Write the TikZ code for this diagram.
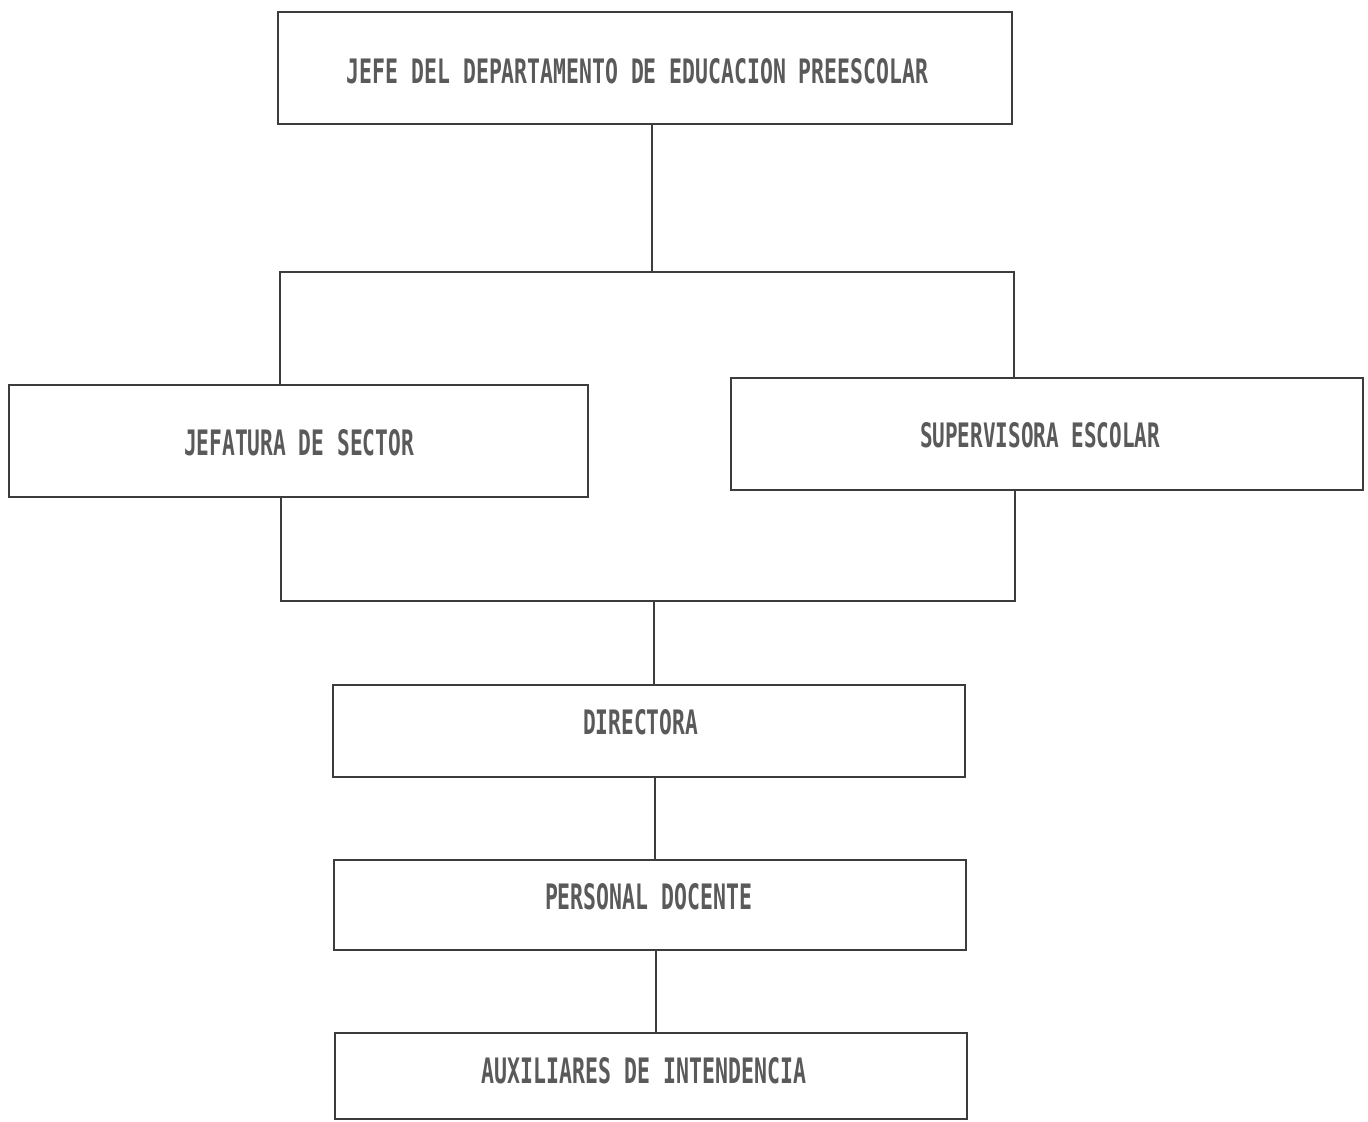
\documentclass[tikz,border=0pt]{standalone}
\usepackage{fontspec}
\setmainfont{Liberation Sans}
\newfontfamily\plotfont{DejaVu Sans Mono}
\usepackage{graphicx}
\definecolor{linec}{HTML}{3C3C3C}
\definecolor{textc}{HTML}{5A5A5A}
\newcommand{\capslbl}[3]{\resizebox{#1}{#2}{\plotfont\bfseries #3}}
\tikzset{
  box/.style={draw=linec, line width=1.1pt, rectangle, inner sep=0pt},
  lbl/.style={inner sep=0pt, text=textc},
  conn/.style={draw=linec, line width=0.9pt}
}
\begin{document}
\begin{tikzpicture}[x=0.5pt,y=-0.5pt]
\useasboundingbox (0,0) rectangle (1368,1122);
% boxes
\node[box, minimum width=367pt, minimum height=56pt] (top) at (645,68) {};
\node[box, minimum width=289.5pt, minimum height=56pt] (jef) at (298.5,441) {};
\node[box, minimum width=316pt, minimum height=56pt] (sup) at (1047,434) {};
\node[box, minimum width=316pt, minimum height=46pt] (dir) at (649,731) {};
\node[box, minimum width=316pt, minimum height=45pt] (per) at (650,905) {};
\node[box, minimum width=316pt, minimum height=43pt] (aux) at (651,1076) {};
% labels
\node[lbl] (topT) at (637.5,71) {\capslbl{290.5pt}{12.5pt}{JEFE DEL DEPARTAMENTO DE EDUCACION PREESCOLAR}};
\node[lbl] (jefT) at (299,443) {\capslbl{115pt}{13pt}{JEFATURA DE SECTOR}};
\node[lbl] (supT) at (1040,435.5) {\capslbl{120pt}{12.5pt}{SUPERVISORA ESCOLAR}};
\node[lbl] (dirT) at (640.5,722.5) {\capslbl{57.5pt}{12.5pt}{DIRECTORA}};
\node[lbl] (perT) at (648.5,896.5) {\capslbl{103.5pt}{13pt}{PERSONAL DOCENTE}};
\node[lbl] (auxT) at (644,1071) {\capslbl{162pt}{13pt}{AUXILIARES DE INTENDENCIA}};
% connector frame
\coordinate (tj) at (652,272);
\coordinate (lt) at (280,272);
\coordinate (rt) at (1014,272);
\coordinate (lb) at (281,601);
\coordinate (rb) at (1015,601);
\coordinate (bj) at (654,601);
\draw[conn] (tj |- top.south) -- (tj);
\draw[conn] (lt |- jef.north) -- (lt) -- (rt) -- (rt |- sup.north);
\draw[conn] (lb |- jef.south) -- (lb) -- (rb) -- (rb |- sup.south);
\draw[conn] (bj) -- (bj |- dir.north);
\draw[conn] ([xshift=3pt]dir.south) -- ([xshift=2.5pt]per.north);
\draw[conn] ([xshift=3pt]per.south) -- ([xshift=2.5pt]aux.north);
\end{tikzpicture}
\end{document}
